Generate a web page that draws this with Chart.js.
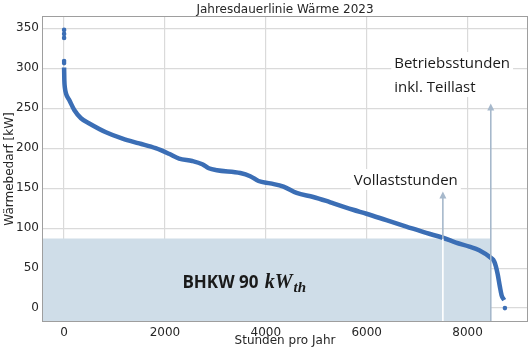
<!DOCTYPE html>
<html><head><meta charset="utf-8">
<script src="https://cdn.jsdelivr.net/npm/chart.js@4.4.1/dist/chart.umd.min.js"></script>
<style>html,body{margin:0;padding:0;background:#fff;overflow:hidden}</style>
</head><body>
<canvas id="c" width="532" height="353"></canvas>
<script>
// ---- data ----
const hours = [0,5,15,40,105,205,335,500,830,1160,1490,1815,2080,2280,2540,2740,2870,3030,3495,3690,3855,4090,4350,4610,4940,5200,5340,5730,5995,6390,6785,7180,7510,7770,8035,8230,8460,8530,8595,8640,8675,8725];
const demandKW = [301,285,276,268,260,247.5,237.5,231,220,212,206,200,193,187,184,180,175,172.5,169,165,159,156,152,144,139,134,131,123,118,110,102,94,88,82,77,72.5,63,58,43,27,16,10];
const outlierHours = [0,0,0,0,0,8740];
const outlierKW = [348,343,338,309,306.5,0];
const bhkwKW = 87;
const fullLoadHours = 7510;
const operatingHours = 8460;
const arrowTipKW = [146, 256];
const xTicks = [0,2000,4000,6000,8000];
const yTicks = [0,50,100,150,200,250,300,350];
const titleText = 'Jahresdauerlinie Wärme 2023';
const xTitle = 'Stunden pro Jahr';
const yTitle = 'Wärmebedarf [kW]';

const X_MIN = -438, X_MAX = 9198, Y_MIN = -17.4, Y_MAX = 365.4;
const curveColor = '#3b6eb5';
const fillColor = '#cfdde8';
const arrowColor = '#a6b8cb';

const curve = hours.map((h,i)=>({x:h,y:demandKW[i]}));
const outliers = outlierHours.map((h,i)=>({x:h,y:outlierKW[i]}));
const bhkwArea = [{x:X_MIN,y:bhkwKW},{x:operatingHours,y:bhkwKW}];

function drawArrow(ctx, px, yFrom, yTo){
  ctx.strokeStyle = arrowColor; ctx.lineWidth = 1.6;
  ctx.beginPath(); ctx.moveTo(px, yFrom); ctx.lineTo(px, yTo + 5); ctx.stroke();
  ctx.fillStyle = arrowColor;
  ctx.beginPath(); ctx.moveTo(px, yTo); ctx.lineTo(px-3.5, yTo+7); ctx.lineTo(px+3.5, yTo+7); ctx.closePath(); ctx.fill();
}
function boxedText(ctx, lines, px, py, lh){
  ctx.font = '15px "Open Sans"';
  let w = Math.max(...lines.map(l=>ctx.measureText(l).width));
  ctx.fillStyle = '#fff';
  ctx.fillRect(px-3, py-16, w+6, lh*(lines.length-1)+21);
  ctx.fillStyle = '#1a1a1a'; ctx.textBaseline = 'alphabetic'; ctx.textAlign='left';
  lines.forEach((l,i)=>ctx.fillText(l, px, py + i*lh));
}

const annot = {
  id:'annot',
  afterDatasetsDraw(chart){
    const {ctx, chartArea:a, scales:{x,y}} = chart;
    ctx.save();
    // white line through fill at full-load hours
    const xf = x.getPixelForValue(fullLoadHours);
    const xo = x.getPixelForValue(operatingHours);
    ctx.strokeStyle = '#ffffff'; ctx.lineWidth = 1.6;
    ctx.beginPath(); ctx.moveTo(xf, a.bottom); ctx.lineTo(xf, y.getPixelForValue(bhkwKW)); ctx.stroke();
    drawArrow(ctx, xf, y.getPixelForValue(bhkwKW), y.getPixelForValue(arrowTipKW[0]));
    drawArrow(ctx, xo, a.bottom, y.getPixelForValue(arrowTipKW[1]));
    // labels
    boxedText(ctx, ['Vollaststunden'], x.getPixelForValue(5743), y.getPixelForValue(154), 24);
    boxedText(ctx, ['Betriebsstunden','inkl. Teillast'], x.getPixelForValue(6546), y.getPixelForValue(300.3), 24);
    // BHKW label
    const bx = x.getPixelForValue(2346), by = y.getPixelForValue(25);
    ctx.fillStyle = '#1a1a1a'; ctx.textAlign='left'; ctx.textBaseline='alphabetic';
    ctx.font = 'bold 17px "Open Sans"';
    const t1 = 'BHKW 90 ';
    ctx.fillText(t1, bx, by);
    let cx = bx + ctx.measureText(t1).width + 2;
    ctx.font = 'italic bold 20px "Liberation Serif"';
    ctx.fillText('kW', cx, by);
    cx += ctx.measureText('kW').width + 1;
    ctx.font = 'italic bold 15px "Liberation Serif"';
    ctx.fillText('th', cx, by + 4);
    // spines
    ctx.strokeStyle = '#9e9e9e'; ctx.lineWidth = 1;
    ctx.strokeRect(Math.round(a.left)+0.5, Math.round(a.top)+0.5, Math.round(a.width)-1, Math.round(a.height)-1);
    // title
    ctx.fillStyle = '#262626'; ctx.font = '12px "DejaVu Sans"'; ctx.textAlign = 'center'; ctx.textBaseline='middle';
    ctx.fillText(titleText, (a.left+a.right)/2, 9.5);
    ctx.restore();
  }
};

new Chart(document.getElementById('c'), {
  type:'scatter',
  data:{datasets:[
    {data:curve, showLine:true, borderColor:curveColor, borderWidth:4.5, pointRadius:0, cubicInterpolationMode:'monotone', order:0},
    {data:outliers, showLine:false, backgroundColor:curveColor, borderWidth:0, pointRadius:2.3, order:1},
    {data:bhkwArea, showLine:true, borderWidth:0, pointRadius:0, fill:'start', backgroundColor:fillColor, order:3}
  ]},
  options:{
    responsive:false, animation:false, devicePixelRatio:1,
    layout:{padding:{left:0,right:2,top:16,bottom:0}},
    plugins:{legend:{display:false}, tooltip:{enabled:false}, title:{display:false}},
    scales:{
      x:{type:'linear', min:X_MIN, max:X_MAX,
        afterBuildTicks:s=>{s.ticks = xTicks.map(v=>({value:v}));},
        afterFit:s=>{s.height = 31;},
        grid:{color:'#dadada', lineWidth:1.2, drawTicks:false},
        border:{display:false},
        ticks:{color:'#262626', padding:4, font:{family:'DejaVu Sans', size:12}, maxRotation:0, callback:v=>String(v)},
        title:{display:true, text:xTitle, color:'#262626', font:{family:'DejaVu Sans', size:12}, padding:{top:0,bottom:5}}
      },
      y:{type:'linear', min:Y_MIN, max:Y_MAX,
        afterBuildTicks:s=>{s.ticks = yTicks.map(v=>({value:v}));},
        afterFit:s=>{s.width = 42;},
        grid:{color:'#dadada', lineWidth:1.2, drawTicks:false},
        border:{display:false},
        ticks:{color:'#262626', padding:3, font:{family:'DejaVu Sans', size:12}, callback:v=>String(v)},
        title:{display:true, text:yTitle, color:'#262626', font:{family:'DejaVu Sans', size:12}, padding:{top:3,bottom:0}}
      }
    }
  },
  plugins:[annot]
});
</script>
</body></html>
